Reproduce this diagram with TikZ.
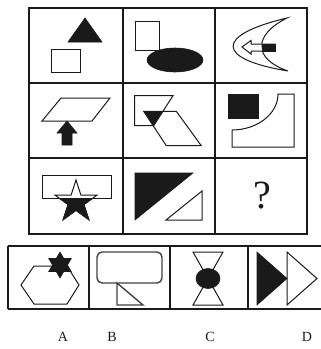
\documentclass[tikz,border=0pt]{standalone}
\usepackage{fontspec}
\setmainfont{Liberation Serif}
\usepackage{tikz}
\usetikzlibrary{arrows.meta,calc,positioning}
\definecolor{FigDark}{HTML}{1A1A1A}
\definecolor{FigGray}{HTML}{404040}
\newcommand{\PuzMark}{\fontsize{40}{42}\selectfont}
\newcommand{\PuzLabel}{\fontsize{14}{16}\selectfont}
\tikzset{
  gridline/.style={draw=FigDark, line width=1.5pt},
  shapeline/.style={draw=FigDark, line width=1.0pt, line join=miter},
  solidshape/.style={fill=FigDark, draw=FigDark, line width=0.6pt},
  hollowshape/.style={shapeline, fill=white},
  answerlabel/.style={font=\PuzLabel, text=FigDark, inner sep=0pt}
}
\begin{document}
\begin{tikzpicture}[x=1pt,y=-1pt]
\path[use as bounding box] (0,0) rectangle (321,349);
\clip (0,0) rectangle (321,349);

% question grid
\draw[gridline] (29,8) rectangle (307,234);
\draw[gridline] (123,8) -- (123,234);
\draw[gridline] (215,8) -- (215,234);
\draw[gridline] (29,83) -- (307,83);
\draw[gridline] (29,158) -- (307,158);

% row 1
\fill[solidshape] (85,18) -- (102,42) -- (68,42) -- cycle;
\draw[shapeline] (51,49) rectangle (80,72);

\draw[shapeline] (135,21) rectangle (159,50);
\fill[solidshape] (175,60) ellipse [x radius=28, y radius=12];

\draw[hollowshape] (287,18) .. controls (215,35) and (215,59) .. (288,71)
  .. controls (253,59) and (253,35) .. (287,18) -- cycle;
\draw[hollowshape] (242,47) -- (251,40.5) -- (251,44) -- (275,44) -- (275,51)
  -- (251,51) -- (251,54) -- cycle;
\begin{scope}
  \clip (288,71) .. controls (253,59) and (253,35) .. (287,18) -- (305,18) -- (305,71) -- cycle;
  \fill[solidshape] (250,44) rectangle (275,51);
\end{scope}

% row 2
\draw[shapeline] (61,98) -- (110,98) -- (92,121) -- (42,121) -- cycle;
\fill[solidshape] (67,121) -- (77,133) -- (72,133) -- (72,145) -- (62,145)
  -- (62,133) -- (57,133) -- cycle;

\begin{scope}
  \clip (134.7,95.7) -- (173,95.7) -- (153.7,125.7) -- (134.7,125.7) -- cycle;
  \fill[FigDark] (143.7,111.3) -- (176.3,111.3) -- (201.3,145.7) -- (166.3,145.7) -- cycle;
\end{scope}
\draw[shapeline] (134.7,95.7) -- (173,95.7) -- (153.7,125.7) -- (134.7,125.7) -- cycle;
\draw[shapeline] (143.7,111.3) -- (176.3,111.3) -- (201.3,145.7) -- (166.3,145.7) -- cycle;

\fill[solidshape] (228,94) rectangle (258,118);
\draw[shapeline] (278,94) -- (294,94) -- (294,147) -- (232,147) -- (232,130)
  .. controls (257,130) and (278,114) .. (278,94) -- cycle;

% row 3
\draw[shapeline] (42,175) rectangle (111,198);
\draw[hollowshape, shift={(76,202)}] (-90:22) -- (-54:8.4) -- (-18:22) -- (18:8.4)
  -- (54:22) -- (90:8.4) -- (126:22) -- (162:8.4) -- (198:22) -- (234:8.4) -- cycle;
\begin{scope}
  \clip (30,198) rectangle (122,230);
  \fill[solidshape, shift={(76,202)}] (-90:22) -- (-54:8.4) -- (-18:22) -- (18:8.4)
    -- (54:22) -- (90:8.4) -- (126:22) -- (162:8.4) -- (198:22) -- (234:8.4) -- cycle;
\end{scope}

\fill[solidshape] (135,173) -- (193,173) -- (135,220) -- cycle;
\draw[shapeline] (166,220) -- (202,220) -- (202,191) -- cycle;

\node[font=\PuzMark, text=FigDark, inner sep=0pt] (qmark) at (262,196) {?};

% answer options
\draw[gridline] (8,246) -- (321,246);
\draw[gridline] (8,309) -- (321,309);
\foreach \xv in {8,89,170,248}
  \draw[gridline] (\xv,246) -- (\xv,309);

\draw[shapeline] (21,285) -- (34,266) -- (67,266) -- (79,285) -- (67,304) -- (34,304) -- cycle;
\fill[solidshape, shift={(60,265)}] (-90:13) -- (30:13) -- (150:13) -- cycle;
\fill[solidshape, shift={(60,265)}] (90:13) -- (-30:13) -- (210:13) -- cycle;

\draw[shapeline, draw=FigGray, line width=1.4pt, rounded corners=5pt] (97,252) rectangle (162,283);
\draw[shapeline, draw=FigGray, line width=1.4pt] (117,283) -- (117,305) -- (143,305) -- cycle;

\draw[shapeline] (193,252) -- (223,252) -- (208,278.5) -- cycle;
\draw[shapeline] (193,305) -- (223,305) -- (208,278.5) -- cycle;
\fill[solidshape] (208,278.5) ellipse [x radius=12, y radius=10];

\fill[solidshape] (257,252) -- (287,278.5) -- (257,305) -- cycle;
\draw[shapeline] (287,252) -- (317,278.5) -- (287,305) -- cycle;

\node[answerlabel] (labA) at (63,337) {A};
\node[answerlabel] (labB) at (112,337) {B};
\node[answerlabel] (labC) at (210,337) {C};
\node[answerlabel] (labD) at (307,337) {D};
\end{tikzpicture}
\end{document}
